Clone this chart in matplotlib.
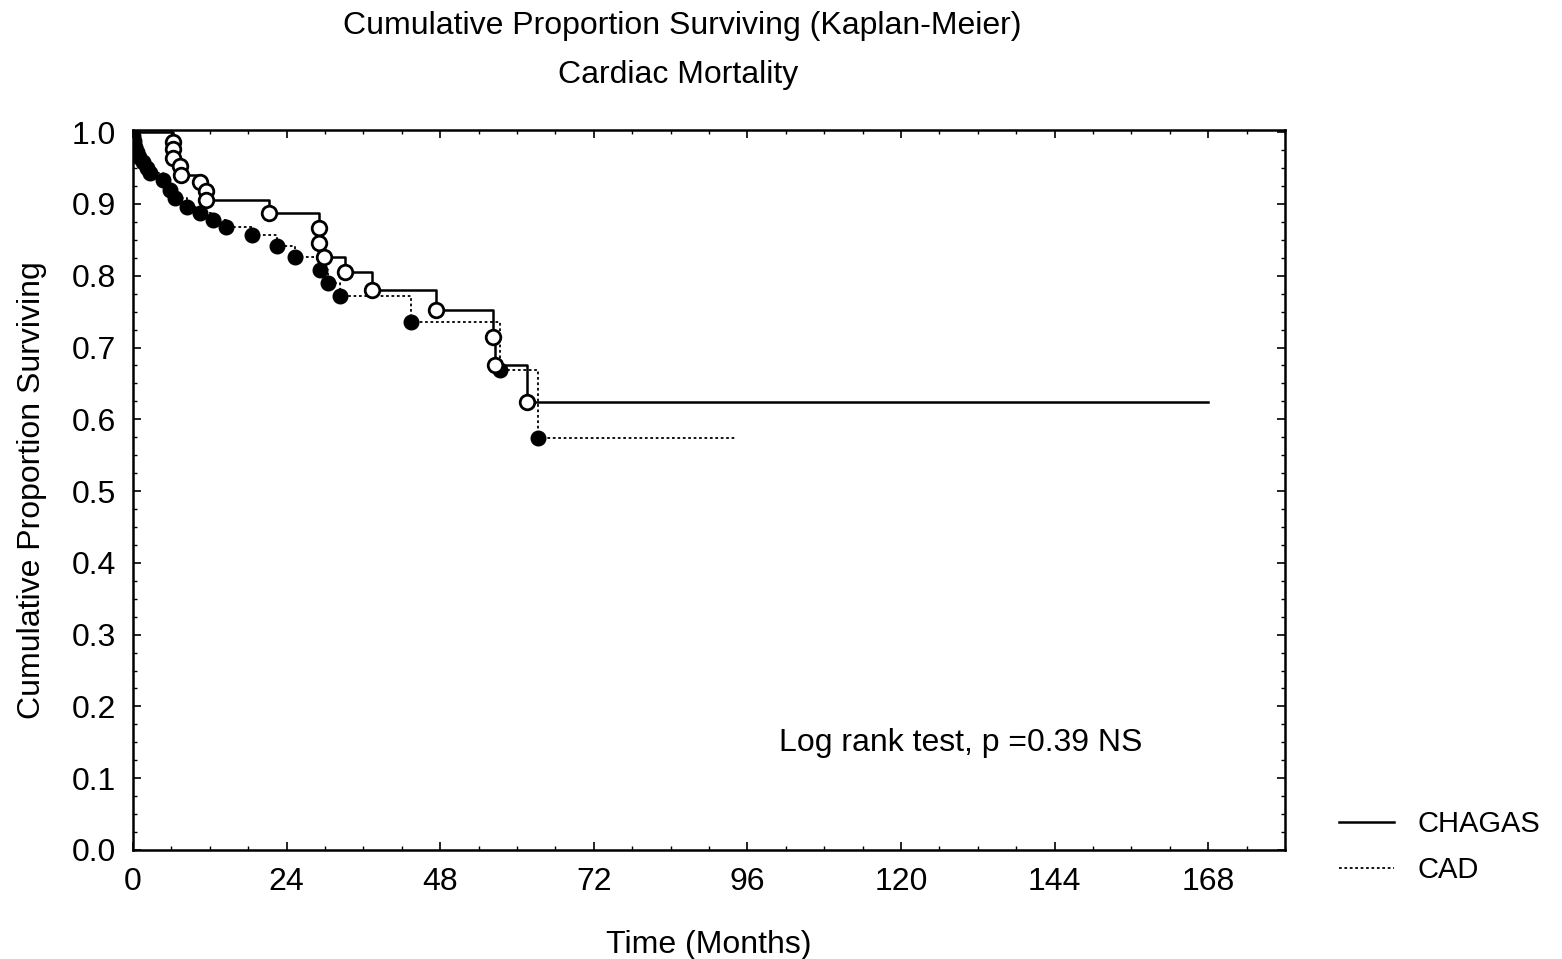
import matplotlib
matplotlib.use("Agg")
import matplotlib.pyplot as plt
from matplotlib.ticker import MultipleLocator

plt.rcParams['font.family'] = ['Liberation Sans', 'DejaVu Sans']

# CHAGAS: event times (months) and survival after each event
chagas_t = [6.2, 6.2, 6.2, 7.3, 7.5, 10.5, 11.4, 11.4, 21.2, 29.0, 29.0, 29.8,
            33.1, 37.3, 47.3, 56.3, 56.5, 61.5]
chagas_s = [0.987, 0.976, 0.964, 0.953, 0.941, 0.930, 0.918, 0.905, 0.887, 0.866,
            0.845, 0.826, 0.805, 0.780, 0.752, 0.714, 0.676, 0.624]
chagas_end = 168

# CAD
cad_t = [0.0, 0.1, 0.3, 0.6, 1.0, 1.5, 2.2, 2.65, 4.7, 5.8, 6.55, 8.4, 10.45, 12.5,
         14.5, 18.6, 22.5, 25.3, 29.2, 30.4, 32.4, 43.4, 57.3, 63.3]
cad_s = [0.995, 0.988, 0.980, 0.972, 0.965, 0.958, 0.950, 0.943, 0.933, 0.919, 0.908,
         0.896, 0.887, 0.877, 0.868, 0.857, 0.841, 0.826, 0.808, 0.790, 0.772, 0.735,
         0.669, 0.574]
cad_end = 94

xticks = [0, 24, 48, 72, 96, 120, 144, 168]
yticks = [0.0, 0.1, 0.2, 0.3, 0.4, 0.5, 0.6, 0.7, 0.8, 0.9, 1.0]

fs = 23

fig = plt.figure(figsize=(15.62, 9.59), dpi=100)
ax = fig.add_axes([0.0851, 0.1137, 0.7376, 0.7507])

# step curves
ax.plot([0] + cad_t + [cad_end], [1.0] + cad_s + [cad_s[-1]],
        drawstyle='steps-post', color='black', lw=1.3, ls=(0, (1.5, 1.5)), label='CAD')
ax.plot([0] + chagas_t + [chagas_end], [1.0] + chagas_s + [chagas_s[-1]],
        drawstyle='steps-post', color='black', lw=1.8, label='CHAGAS')

# event markers
ax.plot(cad_t, cad_s, 'o', ms=10.5, mfc='black', mec='black', ls='none')
ax.plot(chagas_t, chagas_s, 'o', ms=10.5, mfc='white', mec='black', mew=2, ls='none')

ax.set_xlim(0, 180)
ax.set_ylim(0, 1.003)
ax.set_xticks(xticks)
ax.set_yticks(yticks)
ax.set_yticklabels([f'{v:.1f}' for v in yticks])
ax.xaxis.set_minor_locator(MultipleLocator(6))
ax.yaxis.set_minor_locator(MultipleLocator(0.025))
ax.tick_params(which='both', direction='in', top=True, right=True, labelsize=fs)
ax.tick_params(axis='x', pad=12)
ax.tick_params(axis='y', pad=12)
ax.tick_params(which='major', length=6, width=1.2)
ax.tick_params(which='minor', length=3, width=1)
for sp in ax.spines.values():
    sp.set_linewidth(1.8)

ax.set_xlabel('Time (Months)', fontsize=fs, labelpad=24)
ax.set_ylabel('Cumulative Proportion Surviving', fontsize=fs, labelpad=18)

ax.text(101, 0.149, 'Log rank test, p =0.39 NS', fontsize=fs, va='center')

fig.text(0.437, 0.973, 'Cumulative Proportion Surviving (Kaplan-Meier)', fontsize=fs,
         ha='center', va='center')
fig.text(0.434, 0.922, 'Cardiac Mortality', fontsize=fs, ha='center', va='center')

h, l = ax.get_legend_handles_labels()
fig.legend(h[::-1], l[::-1], loc='upper left', bbox_to_anchor=(0.857, 0.155),
           frameon=False, fontsize=21, handlelength=1.9, handletextpad=0.8,
           labelspacing=0.62, borderaxespad=0, borderpad=0)

fig.savefig('out.png', dpi=100)
